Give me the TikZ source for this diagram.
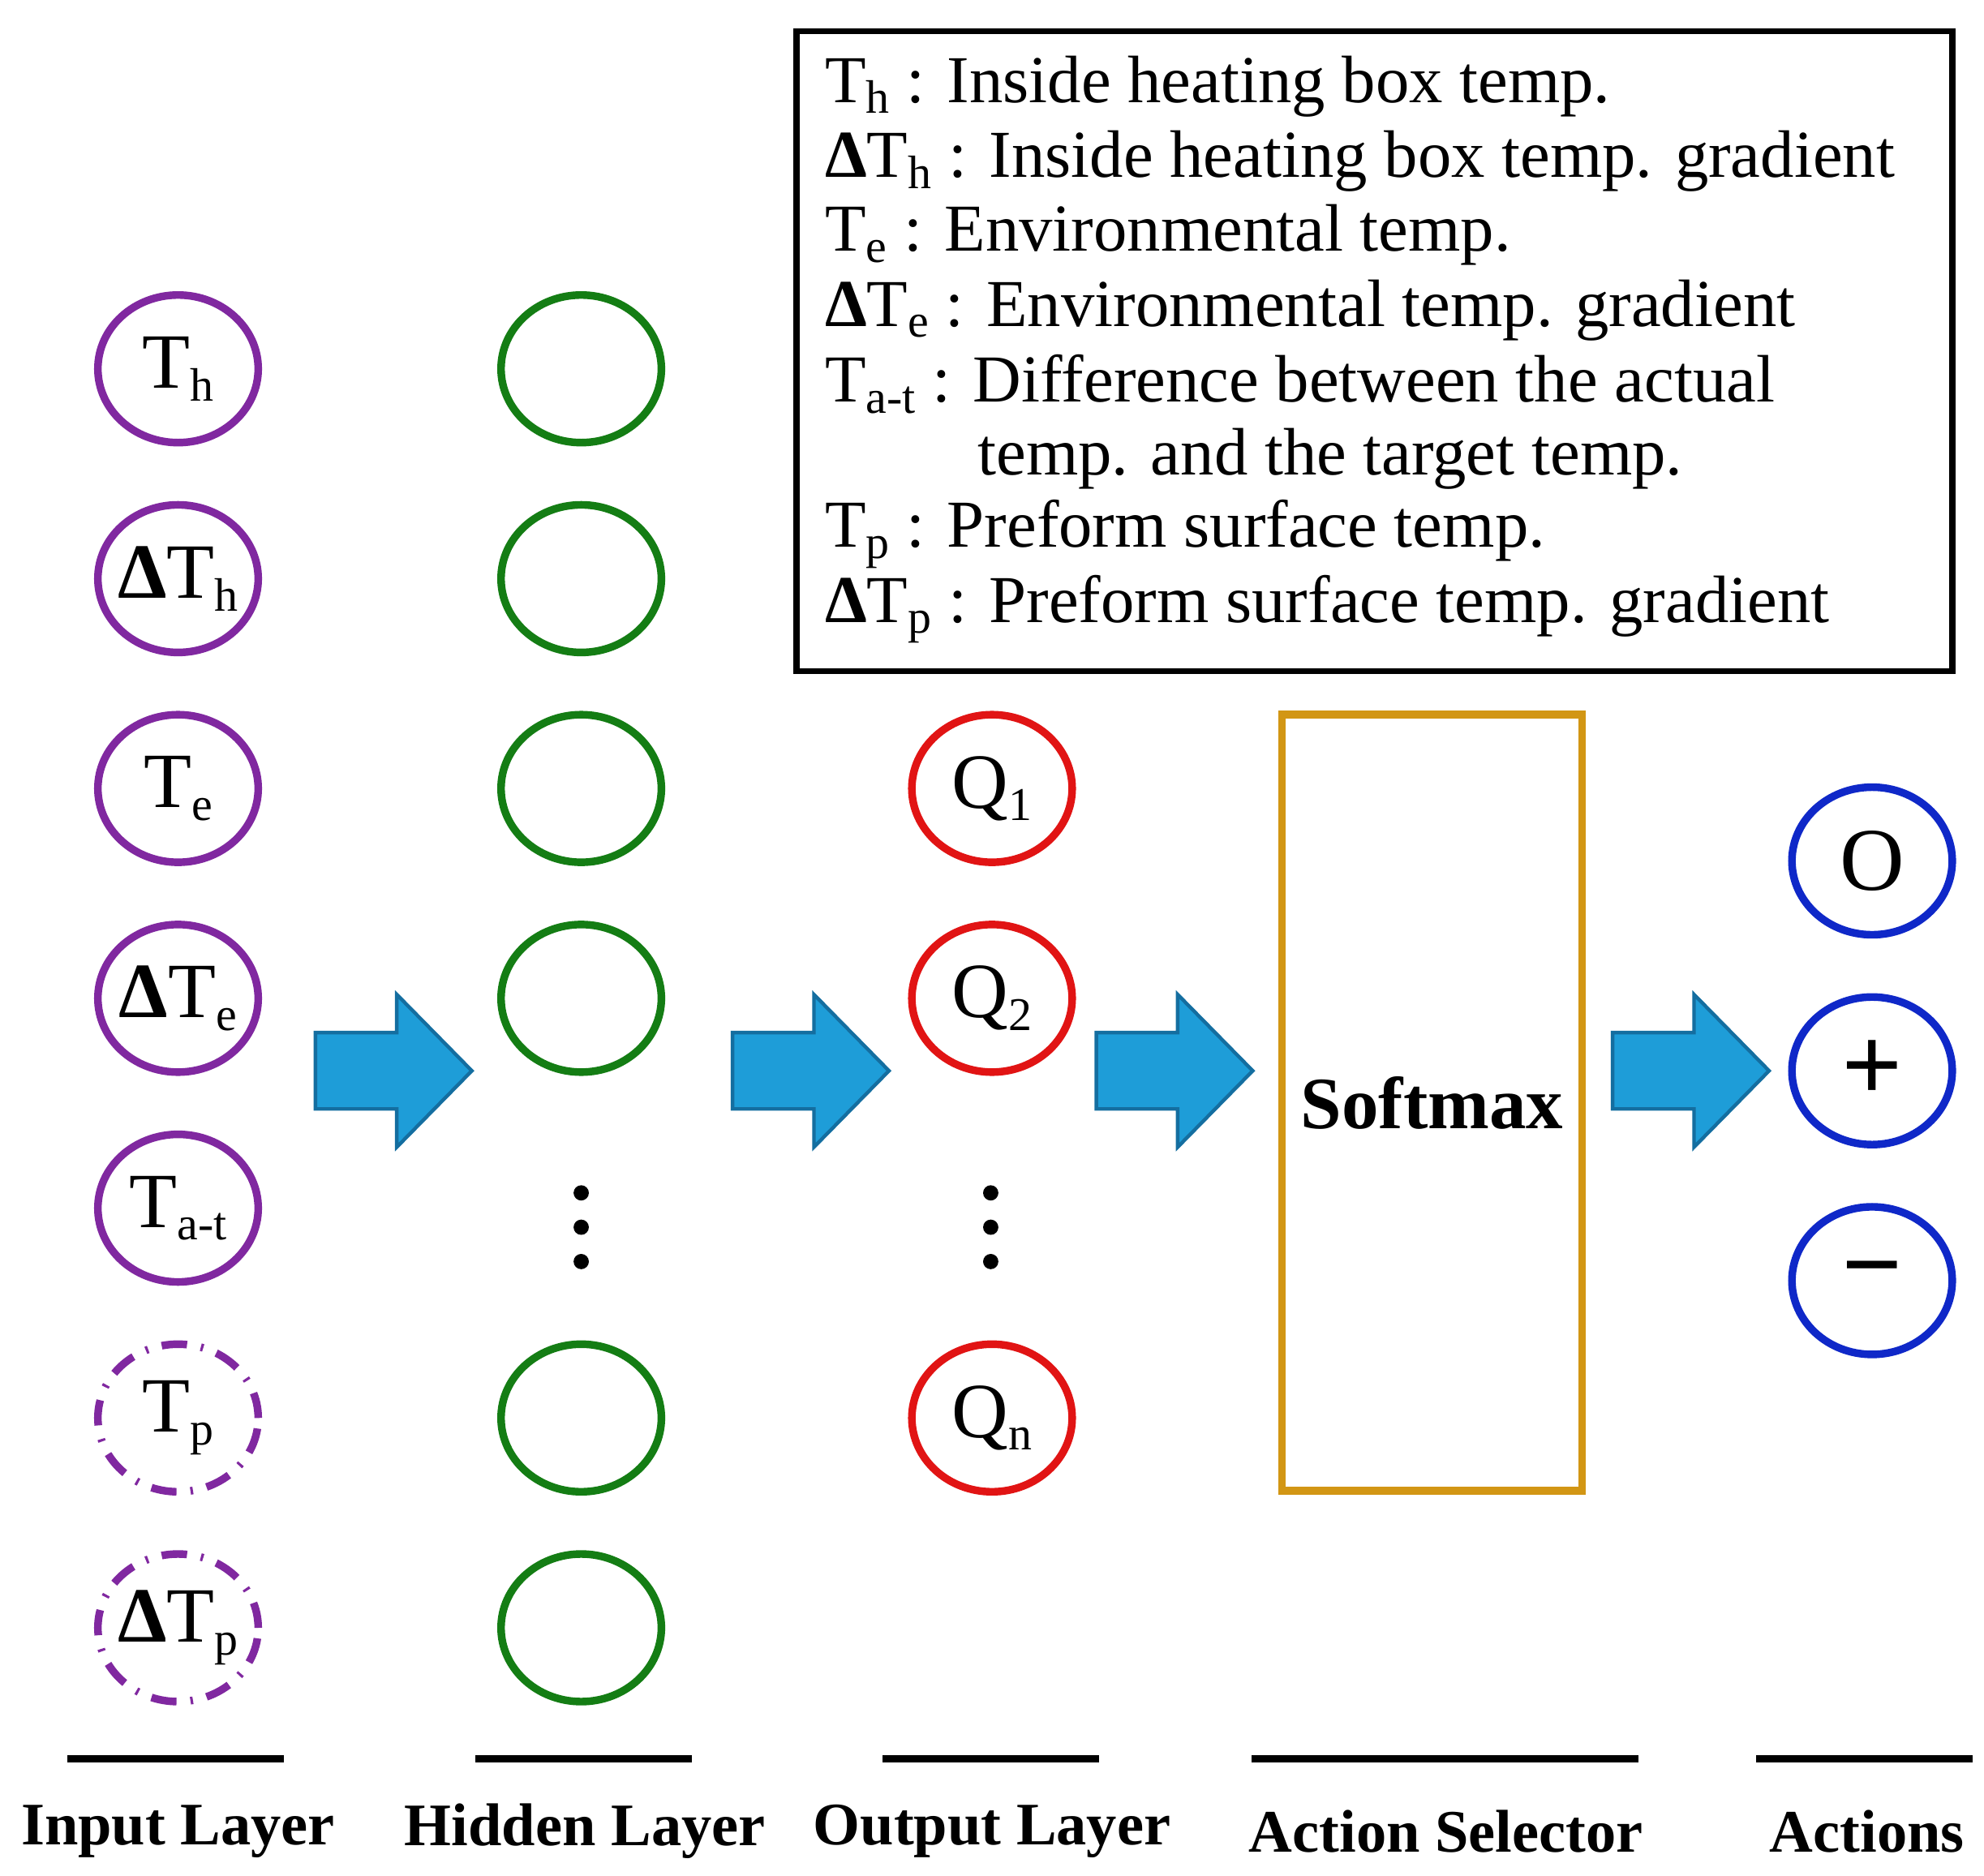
\documentclass[tikz,border=0pt]{standalone}
\usepackage{fontspec}
\setmainfont{Liberation Serif}
\usetikzlibrary{shapes.geometric}
\begin{document}
\newcommand{\sbx}[1]{\raisebox{-0.35ex}{\fontsize{10.5}{12}\selectfont #1}}
\newcommand{\Dl}{\textbf{Δ}}
\newcommand{\mb}[1]{\makebox[0pt]{#1}}
\begin{tikzpicture}[x=0.01cm,y=-0.01cm,
  circ/.style={draw,ellipse,line width=0.06cm,minimum width=1.26cm,minimum height=1.16cm,inner sep=0pt,font=\fontsize{17.5}{20}\selectfont},
  inp/.style={circ,draw={rgb,255:red,128;green,40;blue,160}},
  hid/.style={circ,draw={rgb,255:red,20;green,125;blue,20}},
  outp/.style={circ,draw={rgb,255:red,225;green,20;blue,20}},
  act/.style={circ,draw={rgb,255:red,15;green,40;blue,200}},
  dsh/.style={dash pattern=on 0.2cm off 0.11cm on 0.02cm off 0.11cm},
  lab/.style={font=\fontsize{13.5}{16}\selectfont\bfseries},
  bar/.style={line width=0.06cm},
  blk/.style={fill={rgb,255:red,30;green,157;blue,216},draw={rgb,255:red,20;green,110;blue,160},line width=0.8pt},
  dot/.style={circle,fill,inner sep=0pt,minimum size=0.12cm}]
\useasboundingbox (0,0) rectangle (1560,1475);
% legend
\node[draw,line width=0.05cm,minimum width=9.08cm,minimum height=5.03cm,anchor=north west] (leg) at (624,22) {};
\begin{scope}[every node/.style={anchor=west,font=\fontsize{15}{18}\selectfont,inner sep=0pt}]
\node (l1) at (648,68) {T\sbx{h} : Inside heating box temp.};
\node (l2) at (648,127) {\Dl T\sbx{h} : Inside heating box temp. gradient};
\node (l3) at (648,185) {T\sbx{e} : Environmental temp.};
\node (l4) at (648,244) {\Dl T\sbx{e} : Environmental temp. gradient};
\node (l5) at (648,302) {T\sbx{a-t} : Difference between the actual};
\node (l6) at (768,361) {temp. and the target temp.};
\node (l7) at (648,420) {T\sbx{p} : Preform surface temp.};
\node (l8) at (648,479) {\Dl T\sbx{p} : Preform surface temp. gradient};
\end{scope}
% input
\node[inp] (i1) at (140,290) {T\sbx{h}};
\node[inp] (i2) at (140,455) {\mb{\Dl T\sbx{h}}};
\node[inp] (i3) at (140,620) {T\sbx{e}};
\node[inp] (i4) at (140,785) {\mb{\Dl T\sbx{e}}};
\node[inp] (i5) at (140,950) {\mb{T\sbx{a-t}}};
\node[inp,dsh] (i6) at (140,1115) {T\sbx{p}};
\node[inp,dsh] (i7) at (140,1280) {\mb{\Dl T\sbx{p}}};
% hidden
\foreach \y/\n in {290/1,455/2,620/3,785/4,1115/5,1280/6} \node[hid] (h\n) at (457,\y) {};
\node[dot] (hd1) at (457,938) {};\node[dot] (hd2) at (457,965) {};\node[dot] (hd3) at (457,992) {};
% output
\node[outp] (q1) at (780,620) {Q\sbx{1}};
\node[outp] (q2) at (780,785) {Q\sbx{2}};
\node[outp] (qn) at (780,1115) {Q\sbx{n}};
\node[dot] (qd1) at (779,938) {};\node[dot] (qd2) at (779,965) {};\node[dot] (qd3) at (779,992) {};
% softmax
\node[draw={rgb,255:red,210;green,150;blue,20},line width=0.06cm,minimum width=2.36cm,minimum height=6.1cm,font=\fontsize{16.5}{20}\selectfont\bfseries] (sm) at (1126,867) {Softmax};
% actions
\node[act,font=\fontsize{20}{22}\selectfont] (a1) at (1472,677) {O};
\node[act,font=\fontsize{24}{26}\selectfont\bfseries] (a2) at (1472,842) {+};
\node[act,font=\fontsize{24}{26}\selectfont\bfseries] (a3) at (1472,1007) {−};
% block arrows
\foreach \x in {248,576,862,1268}
  \draw[blk] (\x,812) -- (\x+64,812) -- (\x+64,782) -- (\x+123,842) -- (\x+64,902) -- (\x+64,872) -- (\x,872) -- cycle;
% bottom bars and labels
\draw[bar] (53,1383) -- (223,1383);
\draw[bar] (374,1383) -- (544,1383);
\draw[bar] (694,1383) -- (864,1383);
\draw[bar] (984,1383) -- (1288,1383);
\draw[bar] (1381,1383) -- (1551,1383);
\node[lab] (t1) at (140,1440) {Input Layer};
\node[lab] (t2) at (460,1440) {Hidden Layer};
\node[lab] (t3) at (780,1440) {Output Layer};
\node[lab] (t4) at (1137,1440) {Action Selector};
\node[lab] (t5) at (1468,1440) {Actions};
\end{tikzpicture}
\end{document}
